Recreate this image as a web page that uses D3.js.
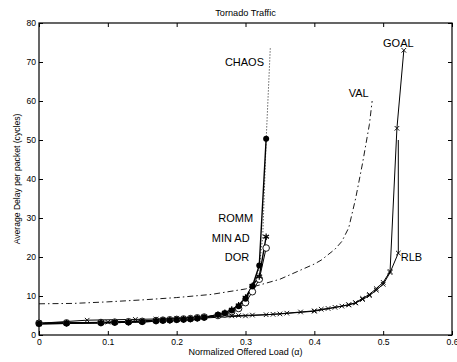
<!DOCTYPE html>
<html>
<head>
<meta charset="utf-8">
<script src="https://cdn.jsdelivr.net/npm/d3@7"></script>
<style>
  body { margin: 0; background: #fff; }
  svg text { font-family: "Liberation Sans", Arial, Helvetica, sans-serif; fill: #000; }
</style>
</head>
<body>
<svg id="chart" width="457" height="362"></svg>
<script>
// tick labels
const xTicks = [0, 0.1, 0.2, 0.3, 0.4, 0.5, 0.6];
const yTicks = [0, 10, 20, 30, 40, 50, 60, 70, 80];

// ROMM / MIN AD / DOR share the same load points
const loadLow = [0, 0.04, 0.09, 0.11, 0.13, 0.15, 0.17, 0.18, 0.19, 0.20, 0.21, 0.22, 0.23, 0.24, 0.26, 0.27, 0.28, 0.29, 0.30, 0.31, 0.32, 0.33];
const rommDelay = [2.9, 3.0, 3.1, 3.2, 3.3, 3.4, 3.6, 3.7, 3.8, 3.9, 4.0, 4.1, 4.3, 4.5, 5.2, 5.6, 6.3, 7.4, 9.3, 12.5, 17.8, 50.3];
const minadDelay = [2.9, 3.0, 3.1, 3.2, 3.3, 3.4, 3.6, 3.7, 3.8, 3.9, 4.0, 4.1, 4.3, 4.5, 5.2, 5.7, 6.5, 7.6, 9.6, 12.6, 15.0, 25.2];
const dorDelay = [3.0, 3.1, 3.2, 3.3, 3.4, 3.5, 3.7, 3.8, 3.9, 4.0, 4.1, 4.2, 4.4, 4.6, 5.0, 5.4, 6.0, 6.8, 8.3, 11.1, 14.3, 22.3];

const chaosLoad = [0, 0.05, 0.1, 0.15, 0.2, 0.25, 0.28, 0.30, 0.31, 0.32, 0.325, 0.33, 0.336];
const chaosDelay = [3.0, 3.1, 3.2, 3.4, 3.9, 4.8, 6.2, 9.0, 12.0, 17.5, 25, 50, 73.5];

const valLoad = [0, 0.05, 0.1, 0.15, 0.2, 0.25, 0.3, 0.35, 0.4, 0.41, 0.43, 0.44, 0.45, 0.46, 0.47, 0.48, 0.484];
const valDelay = [8.0, 8.1, 8.5, 9.0, 9.6, 10.4, 11.8, 14.3, 18.2, 19.2, 22, 24, 27.5, 35, 44, 54, 60];

const goalLoad = [0, 0.07, 0.14, 0.17, 0.2, 0.24, 0.28, 0.29, 0.31, 0.33, 0.34, 0.36, 0.38, 0.40, 0.41, 0.42, 0.43, 0.44, 0.45, 0.46, 0.47, 0.48, 0.49, 0.50, 0.51, 0.52, 0.53];
const goalDelay = [3.0, 3.8, 4.0, 4.1, 4.3, 4.6, 4.9, 5.0, 5.1, 5.2, 5.3, 5.6, 5.9, 6.2, 6.6, 6.8, 7.1, 7.4, 7.8, 8.3, 9.4, 10.4, 11.9, 13.5, 16.3, 53, 73];

const rlbLoad = [0, 0.1, 0.2, 0.3, 0.35, 0.4, 0.45, 0.46, 0.47, 0.48, 0.49, 0.50, 0.51, 0.522, 0.522];
const rlbDelay = [3.0, 3.3, 4.0, 4.9, 5.4, 6.1, 7.7, 8.2, 9.1, 10.1, 11.5, 13.0, 16.0, 21, 50];

const zip = (xs, ys) => xs.map((x, i) => ({ x: x, y: ys[i] }));

const svg = d3.select("#chart");
const mLeft = 39, mRight = 452, mTop = 23, mBottom = 335;

const x = d3.scaleLinear().domain([0, 0.6]).range([mLeft, mRight]);
const y = d3.scaleLinear().domain([0, 80]).range([mBottom, mTop]);

// title
svg.append("text")
  .attr("x", (mLeft + mRight) / 2).attr("y", 15.5)
  .attr("text-anchor", "middle").style("font-size", "9.2px")
  .text("Tornado Traffic");

// axes, ticks pointing inward (matlab box)
const fmt = d => d === 0 ? "0" : String(d);
svg.append("g")
  .attr("transform", "translate(0," + mBottom + ")")
  .call(d3.axisBottom(x).tickValues(xTicks).tickFormat(fmt).tickSize(-4).tickPadding(3.5))
  .call(g => g.select(".domain").remove())
  .selectAll("text").style("font-size", "8.6px").attr("fill", "#000");
svg.append("g")
  .attr("transform", "translate(" + mLeft + ",0)")
  .call(d3.axisLeft(y).tickValues(yTicks).tickSize(-4).tickPadding(3))
  .call(g => g.select(".domain").remove())
  .selectAll("text").style("font-size", "8.6px").attr("fill", "#000");
svg.append("g")
  .attr("transform", "translate(0," + mTop + ")")
  .call(d3.axisTop(x).tickValues(xTicks).tickSize(-4).tickFormat(""))
  .call(g => g.select(".domain").remove());
svg.append("g")
  .attr("transform", "translate(" + mRight + ",0)")
  .call(d3.axisRight(y).tickValues(yTicks).tickSize(-4).tickFormat(""))
  .call(g => g.select(".domain").remove());
svg.selectAll(".tick line").attr("stroke", "#000");

svg.append("rect")
  .attr("x", mLeft).attr("y", mTop)
  .attr("width", mRight - mLeft).attr("height", mBottom - mTop)
  .attr("fill", "none").attr("stroke", "#000").attr("stroke-width", 1.2);

// axis labels
svg.append("text")
  .attr("x", (mLeft + mRight) / 2).attr("y", 355)
  .attr("text-anchor", "middle").style("font-size", "9px")
  .text("Normalized Offered Load (\u03b1)");
svg.append("text")
  .attr("transform", "translate(19.5," + (mTop + mBottom) / 2 + ") rotate(-90)")
  .attr("text-anchor", "middle").style("font-size", "8.6px")
  .text("Average Delay per packet (cycles)");

const line = d3.line().x(d => x(d.x)).y(d => y(d.y));
const plot = svg.append("g");

function drawLine(data, width, dash) {
  plot.append("path")
    .datum(data)
    .attr("d", line)
    .attr("fill", "none")
    .attr("stroke", "#000")
    .attr("stroke-width", width)
    .attr("stroke-dasharray", dash);
}

const chaos = zip(chaosLoad, chaosDelay);
const val = zip(valLoad, valDelay);
const goal = zip(goalLoad, goalDelay);
const rlb = zip(rlbLoad, rlbDelay);
const romm = zip(loadLow, rommDelay);
const minad = zip(loadLow, minadDelay);
const dor = zip(loadLow, dorDelay);

drawLine(chaos, 0.9, "1,2");
drawLine(val, 0.9, "6,3,1.5,3");
drawLine(goal, 1, null);
drawLine(rlb, 1, null);
drawLine(dor, 1, null);
drawLine(minad, 1.4, null);
drawLine(romm, 1.4, null);

// markers
const crossPath = "M-2.3,-2.3L2.3,2.3M-2.3,2.3L2.3,-2.3";
plot.selectAll(".goalMark").data(goal).enter().append("path")
  .attr("transform", d => "translate(" + x(d.x) + "," + y(d.y) + ")")
  .attr("d", crossPath).attr("stroke", "#000").attr("stroke-width", 0.9);
plot.selectAll(".rlbMark").data(rlb.slice(0, rlb.length - 1)).enter().append("path")
  .attr("transform", d => "translate(" + x(d.x) + "," + y(d.y) + ")")
  .attr("d", crossPath).attr("stroke", "#000").attr("stroke-width", 0.9);
plot.selectAll(".dorMark").data(dor).enter().append("circle")
  .attr("cx", d => x(d.x)).attr("cy", d => y(d.y)).attr("r", 3.3)
  .attr("fill", "#fff").attr("stroke", "#000").attr("stroke-width", 0.9);
plot.selectAll(".rommMark").data(romm).enter().append("circle")
  .attr("cx", d => x(d.x)).attr("cy", d => y(d.y)).attr("r", 3)
  .attr("fill", "#000");
const star = d3.symbol().type(d3.symbolAsterisk).size(30);
plot.selectAll(".minadMark").data(minad).enter().append("path")
  .attr("transform", d => "translate(" + x(d.x) + "," + y(d.y) + ")")
  .attr("d", star).attr("fill", "none").attr("stroke", "#000").attr("stroke-width", 1.2);

// series names
const seriesNames = ["CHAOS", "GOAL", "VAL", "ROMM", "MIN AD", "DOR", "RLB"];
const namePos = [[0.3269, 68.85, "end"], [0.4998, 73.85, "start"], [0.45, 60.9, "start"],
  [0.311, 28.85, "end"], [0.306, 23.85, "end"], [0.3055, 19.05, "end"], [0.5255, 19.05, "start"]];
svg.selectAll(".seriesName").data(seriesNames).enter().append("text")
  .attr("x", (d, i) => x(namePos[i][0]))
  .attr("y", (d, i) => y(namePos[i][1]))
  .attr("text-anchor", (d, i) => namePos[i][2])
  .style("font-size", "11px")
  .text(d => d);
</script>
</body>
</html>
